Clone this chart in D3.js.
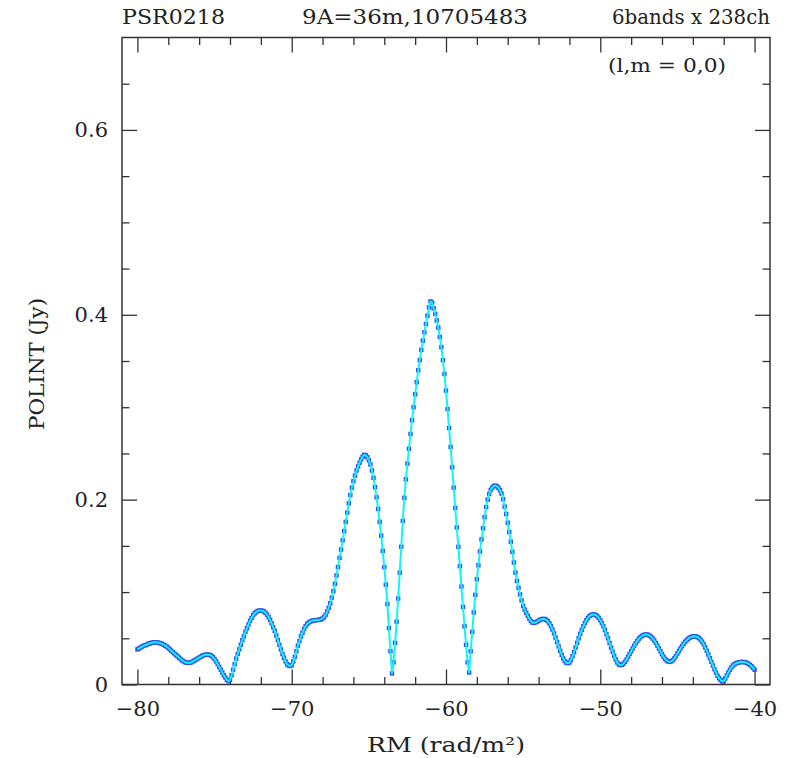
<!DOCTYPE html>
<html>
<head>
<meta charset="utf-8">
<script src="https://cdn.jsdelivr.net/npm/d3@7"></script>
<style>
  html, body { margin: 0; padding: 0; background: #ffffff; }
  svg { display: block; }
  text { font-family: "DejaVu Serif", "Liberation Serif", serif; fill: #222; }
</style>
</head>
<body>
<svg id="chart" width="789" height="758"></svg>
<script>
// Faraday depth grid (rad/m^2): one sample every 0.1 from -80 to -40
const rmStart = -80;
const rmStep = 0.1;

// Polarized intensity (Jy) at each Faraday depth sample, -80.0 ... -40.0
const polint = [
  0.038,0.039,0.040,0.041,0.042,0.0425,0.043,0.044,0.0445,0.045,
  0.0455,0.0457,0.0457,0.0455,0.045,0.0445,0.044,0.043,0.042,0.041,
  0.0395,0.038,0.0365,0.035,0.0335,0.032,0.0305,0.029,0.0275,0.026,
  0.025,0.024,0.0235,0.0234,0.0236,0.024,0.025,0.026,0.027,0.028,
  0.029,0.030,0.031,0.0318,0.0322,0.0324,0.0323,0.032,0.031,0.0295,
  0.0275,0.025,0.022,0.019,0.016,0.013,0.010,0.0075,0.005,0.0035,
  0.005,0.010,0.016,0.022,0.028,0.033,0.038,0.043,0.048,0.052,
  0.057,0.061,0.065,0.069,0.072,0.075,0.077,0.0785,0.0795,0.080,
  0.080,0.0798,0.079,0.0775,0.0755,0.073,0.070,0.066,0.062,0.058,
  0.053,0.048,0.043,0.038,0.033,0.029,0.025,0.022,0.0205,0.020,
  0.021,0.025,0.030,0.036,0.042,0.047,0.052,0.056,0.060,0.063,
  0.0655,0.067,0.068,0.0688,0.0692,0.0695,0.0697,0.0698,0.070,0.0705,
  0.0715,0.073,0.0755,0.079,0.083,0.088,0.094,0.101,0.109,0.118,
  0.127,0.137,0.146,0.156,0.166,0.176,0.186,0.196,0.205,0.213,
  0.220,0.226,0.2315,0.236,0.240,0.2435,0.2465,0.2485,0.248,0.246,
  0.2425,0.238,0.2315,0.2235,0.2135,0.2025,0.190,0.176,0.161,0.1445,
  0.127,0.108,0.087,0.061,0.036,0.012,0.024,0.045,0.068,0.093,
  0.121,0.149,0.177,0.202,0.222,0.239,0.255,0.271,0.286,0.300,
  0.314,0.327,0.340,0.351,0.362,0.372,0.381,0.390,0.399,0.408,
  0.4145,0.413,0.407,0.401,0.394,0.386,0.376,0.365,0.351,0.336,
  0.318,0.298,0.2775,0.257,0.235,0.213,0.191,0.170,0.149,0.128,
  0.106,0.084,0.063,0.043,0.024,0.013,0.036,0.057,0.078,0.097,
  0.114,0.129,0.144,0.157,0.169,0.181,0.192,0.200,0.206,0.2105,
  0.213,0.2148,0.2152,0.2145,0.2128,0.2102,0.2065,0.2005,0.1925,0.1845,
  0.175,0.165,0.1545,0.1435,0.132,0.121,0.112,0.1045,0.0975,0.091,
  0.085,0.081,0.0775,0.0742,0.0712,0.0687,0.0670,0.0667,0.0672,0.0680,
  0.0690,0.0700,0.0707,0.0710,0.0708,0.0700,0.0685,0.0662,0.0632,0.0595,
  0.0553,0.0508,0.046,0.0412,0.0365,0.032,0.0282,0.0253,0.0236,0.023,
  0.0238,0.0265,0.0305,0.035,0.040,0.045,0.050,0.0548,0.059,0.063,
  0.0665,0.0695,0.072,0.074,0.0752,0.0758,0.0758,0.0752,0.074,0.072,
  0.0695,0.0665,0.063,0.059,0.0545,0.050,0.045,0.040,0.0355,0.031,
  0.027,0.0238,0.0218,0.021,0.0213,0.0225,0.0245,0.027,0.030,0.033,
  0.036,0.039,0.042,0.0448,0.0472,0.0495,0.0512,0.0525,0.0535,0.054,
  0.0541,0.0537,0.0528,0.0515,0.0497,0.0475,0.045,0.042,0.039,0.0358,
  0.0328,0.030,0.0277,0.026,0.0249,0.0245,0.025,0.0263,0.0283,0.0308,
  0.0335,0.0363,0.039,0.0416,0.044,0.0462,0.048,0.0495,0.0507,0.0515,
  0.052,0.0522,0.052,0.0513,0.0502,0.0485,0.0463,0.0435,0.0402,0.0365,
  0.0325,0.0285,0.0245,0.0205,0.0165,0.0128,0.0095,0.0068,0.0048,0.0034,
  0.0035,0.0065,0.0098,0.013,0.016,0.0185,0.0205,0.022,0.023,0.0236,
  0.024,0.0243,0.0244,0.0243,0.024,0.0234,0.0225,0.0213,0.0198,0.018,
  0.016
];

// Axis ticks
const xMajorTicks = [-80, -70, -60, -50, -40];
const xMinorTicks = [-78, -76, -74, -72, -68, -66, -64, -62, -58, -56, -54, -52, -48, -46, -44, -42];
const yMajorTicks = [0, 0.2, 0.4, 0.6];
const yMinorTicks = [0.05, 0.1, 0.15, 0.25, 0.3, 0.35, 0.45, 0.5, 0.55, 0.65];

// Header and axis captions
const titleSource = "PSR0218";
const titleArray = "9A=36m,10705483";
const titleSetup = "6bands x 238ch";
const positionNote = "(l,m = 0,0)";
const xTitle = "RM (rad/m\u00B2)";
const yTitle = "POLINT (Jy)";

const points = polint.map((v, i) => ({ rm: +(rmStart + i * rmStep).toFixed(1), v }));

const margin = { left: 122, top: 37.5, right: 19, bottom: 73.5 };
const W = 789, H = 758;
const w = W - margin.left - margin.right;
const h = H - margin.top - margin.bottom;

const x = d3.scaleLinear().domain([-81, -39]).range([0, w]);
const y = d3.scaleLinear().domain([0, 0.7]).range([h, 0]);

const svg = d3.select("#chart");
const g = svg.append("g").attr("transform", `translate(${margin.left},${margin.top})`);

const axisColor = "#333";
const fmtY = d => d === 0 ? "0" : d3.format(".1f")(d);

function styleAxis(sel) {
  sel.select(".domain").remove();
  sel.selectAll("line").attr("stroke", axisColor).attr("stroke-width", 1.3);
  sel.selectAll("text").attr("font-size", 21).attr("fill", "#222")
     .attr("font-family", '"DejaVu Serif", "Liberation Serif", serif');
}

// Bottom axis with labels
g.append("g").attr("transform", `translate(0,${h})`)
  .call(d3.axisBottom(x).tickValues(xMajorTicks).tickSize(-15).tickPadding(17))
  .call(styleAxis);
g.append("g").attr("transform", `translate(0,${h})`)
  .call(d3.axisBottom(x).tickValues(xMinorTicks).tickSize(-7.5).tickFormat(""))
  .call(styleAxis);
// Top axis
g.append("g")
  .call(d3.axisTop(x).tickValues(xMajorTicks).tickSize(-15).tickFormat(""))
  .call(styleAxis);
g.append("g")
  .call(d3.axisTop(x).tickValues(xMinorTicks).tickSize(-7.5).tickFormat(""))
  .call(styleAxis);
// Left axis with labels
g.append("g")
  .call(d3.axisLeft(y).tickValues(yMajorTicks).tickSize(-15).tickPadding(14).tickFormat(fmtY))
  .call(styleAxis);
g.append("g")
  .call(d3.axisLeft(y).tickValues(yMinorTicks).tickSize(-7.5).tickFormat(""))
  .call(styleAxis);
// Right axis
g.append("g").attr("transform", `translate(${w},0)`)
  .call(d3.axisRight(y).tickValues(yMajorTicks).tickSize(-15).tickFormat(""))
  .call(styleAxis);
g.append("g").attr("transform", `translate(${w},0)`)
  .call(d3.axisRight(y).tickValues(yMinorTicks).tickSize(-7.5).tickFormat(""))
  .call(styleAxis);

// Frame
g.append("rect")
  .attr("x", 0).attr("y", 0).attr("width", w).attr("height", h)
  .attr("fill", "none").attr("stroke", axisColor).attr("stroke-width", 1.5);

// Sample markers
g.append("g").selectAll("rect")
  .data(points)
  .join("rect")
  .attr("x", d => x(d.rm) - 2.2)
  .attr("y", d => y(d.v) - 2.2)
  .attr("width", 4.4)
  .attr("height", 4.4)
  .attr("fill", "#2f4ff0");

// Connecting line
g.append("path")
  .datum(points)
  .attr("fill", "none")
  .attr("stroke", "#10f4ff")
  .attr("stroke-width", 2)
  .attr("stroke-linejoin", "round")
  .attr("d", d3.line().x(d => x(d.rm)).y(d => y(d.v)));

// Header line
svg.append("text").attr("x", 122).attr("y", 24).attr("font-size", 21)
  .attr("textLength", 103).attr("lengthAdjust", "spacingAndGlyphs").text(titleSource);
svg.append("text").attr("x", 302).attr("y", 24).attr("font-size", 21)
  .attr("textLength", 226).attr("lengthAdjust", "spacingAndGlyphs").text(titleArray);
svg.append("text").attr("x", 612).attr("y", 24).attr("font-size", 21)
  .attr("textLength", 158).attr("lengthAdjust", "spacingAndGlyphs").text(titleSetup);

// Position note inside the frame
svg.append("text").attr("x", 608).attr("y", 72).attr("font-size", 18)
  .attr("textLength", 118).attr("lengthAdjust", "spacingAndGlyphs").text(positionNote);

// Axis titles
svg.append("text").attr("x", 446).attr("y", 752).attr("font-size", 21)
  .attr("text-anchor", "middle")
  .attr("textLength", 158).attr("lengthAdjust", "spacingAndGlyphs").text(xTitle);
svg.append("text")
  .attr("transform", "translate(44,364) rotate(-90)")
  .attr("font-size", 21).attr("text-anchor", "middle")
  .attr("textLength", 132).attr("lengthAdjust", "spacingAndGlyphs").text(yTitle);
</script>
</body>
</html>
